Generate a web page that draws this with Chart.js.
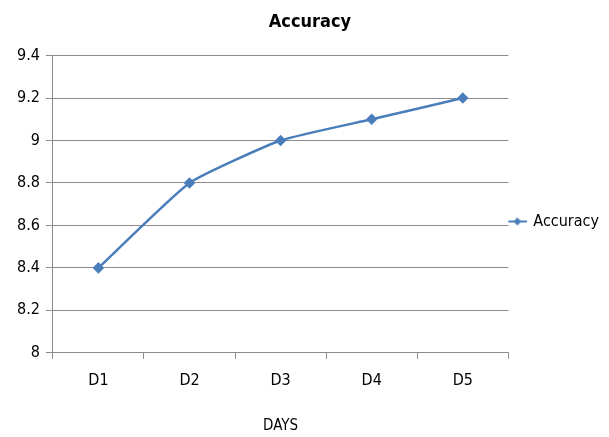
<!DOCTYPE html>
<html>
<head>
<meta charset="utf-8">
<script src="https://cdn.jsdelivr.net/npm/chart.js@4/dist/chart.umd.min.js"></script>
<style>
  html, body { margin: 0; padding: 0; background: #fff; }
  .container { width: 609px; height: 437px; }
</style>
</head>
<body>
<div class="container"><canvas id="accuracy"></canvas></div>
<script>
const days = ['D1', 'D2', 'D3', 'D4', 'D5'];
const accuracy = [8.4, 8.8, 9.0, 9.1, 9.2];
const yMin = 8;
const yMax = 9.4;
const yStep = 0.2;

const font = "'Liberation Sans Narrow', 'DejaVu Sans Condensed', sans-serif";
const blue = '#4a7ebb';
const grey = '#8c8c8c';

// legend marker: short line with a diamond in the middle
const marker = document.createElement('canvas');
marker.width = 20;
marker.height = 10;
(function () {
    const c = marker.getContext('2d');
    c.strokeStyle = blue;
    c.lineWidth = 2;
    c.beginPath();
    c.moveTo(0, 5);
    c.lineTo(20, 5);
    c.stroke();
    c.fillStyle = blue;
    c.beginPath();
    c.moveTo(10, 1);
    c.lineTo(14, 5);
    c.lineTo(10, 9);
    c.lineTo(6, 5);
    c.closePath();
    c.fill();
})();

const ctx = document.getElementById('accuracy').getContext('2d');
new Chart(ctx, {
    type: 'line',
    data: {
        labels: days,
        datasets: [
            {
                label: 'Accuracy',
                data: accuracy,
                borderColor: blue,
                backgroundColor: blue,
                borderWidth: 2.5,
                tension: 0.15,
                pointStyle: 'rectRot',
                pointRadius: 4,
                pointBackgroundColor: blue,
                pointBorderColor: blue,
            }
        ]
    },
    options: {
        responsive: true,
        maintainAspectRatio: false,
        animation: false,
        layout: { padding: { left: 11, right: 0, top: 8, bottom: 2 } },
        plugins: {
            title: {
                display: true,
                text: 'Accuracy',
                color: '#000',
                font: { family: font, size: 18, weight: 'bold' },
                padding: { top: 4, bottom: 22 }
            },
            legend: {
                position: 'right',
                labels: {
                    color: '#000',
                    font: { family: font, size: 16 },
                    boxWidth: 20,
                    padding: 1,
                    generateLabels: (chart) => [{
                        text: 'Accuracy',
                        pointStyle: marker,
                        fillStyle: blue,
                        strokeStyle: blue,
                        lineWidth: 0,
                        datasetIndex: 0
                    }],
                    usePointStyle: true
                }
            },
            tooltip: { enabled: false }
        },
        scales: {
            x: {
                offset: true,
                grid: {
                    offset: true,
                    drawOnChartArea: false,
                    drawTicks: true,
                    tickLength: 6,
                    color: grey
                },
                border: { color: grey, width: 1 },
                ticks: {
                    color: '#000',
                    font: { family: font, size: 16 },
                    padding: 12
                },
                title: {
                    display: true,
                    text: 'DAYS',
                    color: '#000',
                    font: { family: font, size: 15 },
                    padding: { top: 15, bottom: 0 }
                }
            },
            y: {
                min: yMin,
                max: yMax,
                ticks: {
                    stepSize: yStep,
                    color: '#000',
                    font: { family: font, size: 16 },
                    padding: 6,
                    callback: (v) => Number(v.toFixed(1)).toString()
                },
                grid: {
                    color: grey,
                    lineWidth: 1,
                    tickLength: 7
                },
                border: { color: grey, width: 1 }
            }
        }
    }
});
</script>
</body>
</html>
